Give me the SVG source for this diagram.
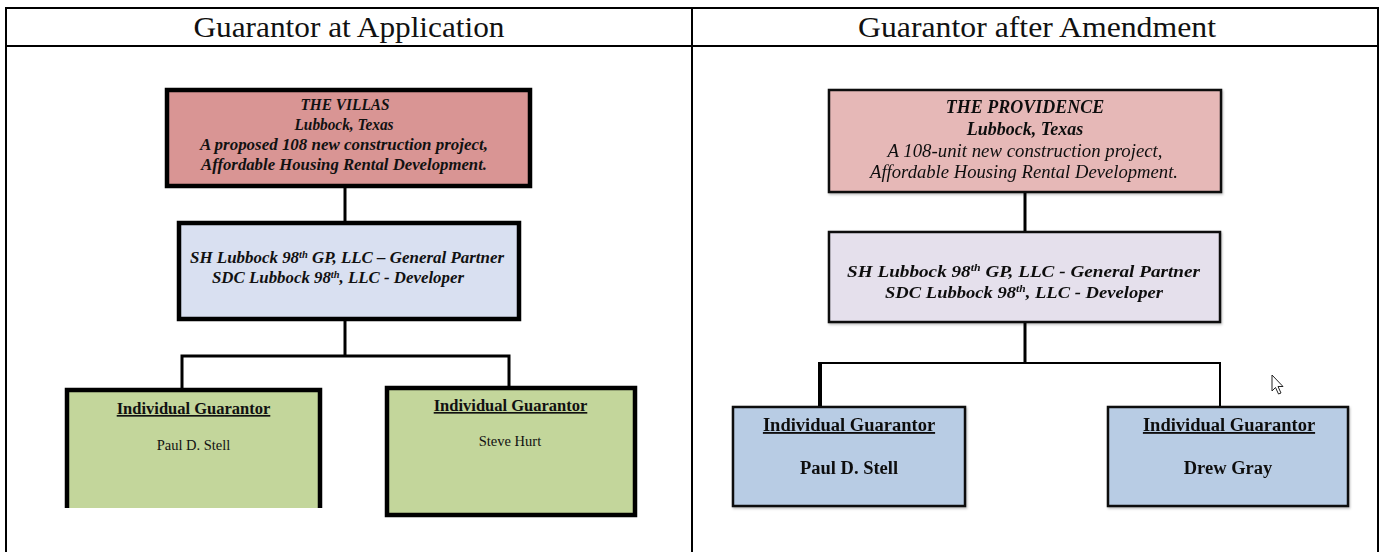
<svg xmlns="http://www.w3.org/2000/svg" width="1383" height="552" viewBox="0 0 1383 552">
  <style>
    .grid { stroke: #000; stroke-width: 2; fill: none; }
    .head { font-family: "Liberation Serif", "Times New Roman", serif; font-size: 29px; fill: #111; text-anchor: middle; }
    .t { font-family: "Liberation Serif", "Times New Roman", serif; fill: #111; }
    .bi { font-weight: bold; font-style: italic; }
    .it { font-style: italic; }
    .b { font-weight: bold; }
    .c { text-anchor: middle; }
    .u { text-decoration: underline; }
    .sup { font-size: 62%; }
    .heavy { stroke: #000; stroke-width: 4.5; }
    .thin { stroke: #111; stroke-width: 2.5; }
    .wire { stroke: #000; fill: none; }
  </style>
  <defs>
    <filter id="shadow" x="-5%" y="-5%" width="110%" height="115%">
      <feDropShadow dx="1" dy="1.5" stdDeviation="1" flood-color="#000" flood-opacity="0.25"/>
    </filter>
  </defs>

  <rect width="1383" height="552" fill="#fff"/>

  <!-- table frame -->
  <g id="table">
    <line class="grid" x1="5" y1="8" x2="1379" y2="8"/>
    <line class="grid" x1="5" y1="46" x2="1379" y2="46"/>
    <line class="grid" x1="6" y1="8" x2="6" y2="552"/>
    <line class="grid" x1="692" y1="8" x2="692" y2="552"/>
    <line class="grid" x1="1378" y1="8" x2="1378" y2="552"/>
    <text class="head" x="349" y="37" textLength="311" lengthAdjust="spacingAndGlyphs">Guarantor at Application</text>
    <text class="head" x="1037" y="37" textLength="358" lengthAdjust="spacingAndGlyphs">Guarantor after Amendment</text>
  </g>

  <!-- connectors -->
  <g id="connectors">
    <g stroke-width="3" class="wire">
      <line x1="345" y1="187" x2="345" y2="222"/>
      <line x1="345" y1="320" x2="345" y2="356"/>
      <polyline points="182,389 182,356 509,356 509,387"/>
    </g>
    <g class="wire">
      <line x1="1025" y1="192" x2="1025" y2="232" stroke-width="3"/>
      <line x1="1025" y1="322" x2="1025" y2="363" stroke-width="3"/>
      <line x1="819" y1="363" x2="1221" y2="363" stroke-width="2"/>
      <line x1="820" y1="362" x2="820" y2="407" stroke-width="4"/>
      <line x1="1220" y1="362" x2="1220" y2="407" stroke-width="2"/>
    </g>
  </g>

  <!-- left panel: at application -->
  <g id="villas">
    <rect x="167" y="90" width="363" height="96" fill="#d99594" class="heavy"/>
    <g class="t bi c" font-size="16">
      <text x="345" y="110" textLength="89" lengthAdjust="spacingAndGlyphs">THE VILLAS</text>
      <text x="344" y="130" textLength="99" lengthAdjust="spacingAndGlyphs">Lubbock, Texas</text>
      <text x="344" y="150" textLength="288" lengthAdjust="spacingAndGlyphs">A proposed 108 new construction project,</text>
      <text x="344" y="170" textLength="286" lengthAdjust="spacingAndGlyphs">Affordable Housing Rental Development.</text>
    </g>
  </g>

  <g id="gp-application">
    <rect x="179" y="223" width="340" height="96" fill="#d9e0f1" class="heavy"/>
    <g class="t bi" font-size="16">
      <text x="190" y="263" textLength="314" lengthAdjust="spacingAndGlyphs">SH Lubbock 98<tspan class="sup" dy="-5">th</tspan><tspan dy="5"> GP, LLC – General Partner</tspan></text>
      <text x="212" y="283" textLength="252" lengthAdjust="spacingAndGlyphs">SDC Lubbock 98<tspan class="sup" dy="-5">th</tspan><tspan dy="5">, LLC - Developer</tspan></text>
    </g>
  </g>

  <g id="guarantor-stell-app">
    <rect x="67" y="390" width="253" height="118" fill="#c3d69b"/>
    <path d="M67,508 V390 H320 V508" fill="none" class="heavy"/>
    <text class="t b c u" x="193.5" y="414" font-size="16.5">Individual Guarantor</text>
    <text class="t c" x="193.5" y="450" font-size="14.5" fill="#3a3a34">Paul D. Stell</text>
  </g>

  <g id="guarantor-hurt">
    <rect x="387" y="388" width="248" height="127" fill="#c3d69b" class="heavy"/>
    <text class="t b c u" x="510.5" y="411" font-size="16.5">Individual Guarantor</text>
    <text class="t c" x="510" y="446" font-size="14.5" fill="#3a3a34">Steve Hurt</text>
  </g>

  <!-- right panel: after amendment -->
  <g id="providence" filter="url(#shadow)">
    <rect x="829" y="90" width="392" height="102" fill="#e6b8b7" class="thin"/>
    <g class="t c">
      <text class="bi" x="1025" y="113" font-size="18">THE PROVIDENCE</text>
      <text class="bi" x="1025" y="135" font-size="18">Lubbock, Texas</text>
      <text class="it" x="1025" y="157" font-size="18" textLength="275" lengthAdjust="spacingAndGlyphs">A 108-unit new construction project,</text>
      <text class="it" x="1024" y="178" font-size="18" textLength="308" lengthAdjust="spacingAndGlyphs">Affordable Housing Rental Development.</text>
    </g>
  </g>

  <g id="gp-amendment" filter="url(#shadow)">
    <rect x="829" y="232" width="391" height="90" fill="#e5e0ec" class="thin"/>
    <g class="t bi" font-size="17.5">
      <text x="847" y="277" textLength="353" lengthAdjust="spacingAndGlyphs">SH Lubbock 98<tspan class="sup" dy="-6">th</tspan><tspan dy="6"> GP, LLC - General Partner</tspan></text>
      <text x="885" y="298" textLength="278" lengthAdjust="spacingAndGlyphs">SDC Lubbock 98<tspan class="sup" dy="-6">th</tspan><tspan dy="6">, LLC - Developer</tspan></text>
    </g>
  </g>

  <g id="guarantor-stell-amend" filter="url(#shadow)">
    <rect x="733" y="407" width="232" height="99" fill="#b8cce4" class="thin"/>
    <text class="t b c u" x="849" y="431" font-size="18.5">Individual Guarantor</text>
    <text class="t b c" x="849" y="474" font-size="18.5">Paul D. Stell</text>
  </g>

  <g id="guarantor-gray" filter="url(#shadow)">
    <rect x="1108" y="407" width="240" height="99" fill="#b8cce4" class="thin"/>
    <text class="t b c u" x="1229" y="431" font-size="18.5">Individual Guarantor</text>
    <text class="t b c" x="1228" y="474" font-size="18.5">Drew Gray</text>
  </g>

  <!-- pointer -->
  <path d="M1272,375 V391 L1275.5,387.5 L1278.5,394 L1281,393 L1278,386.5 L1283,386.5 Z" fill="#fff" stroke="#222" stroke-width="1" stroke-linejoin="round"/>
</svg>
